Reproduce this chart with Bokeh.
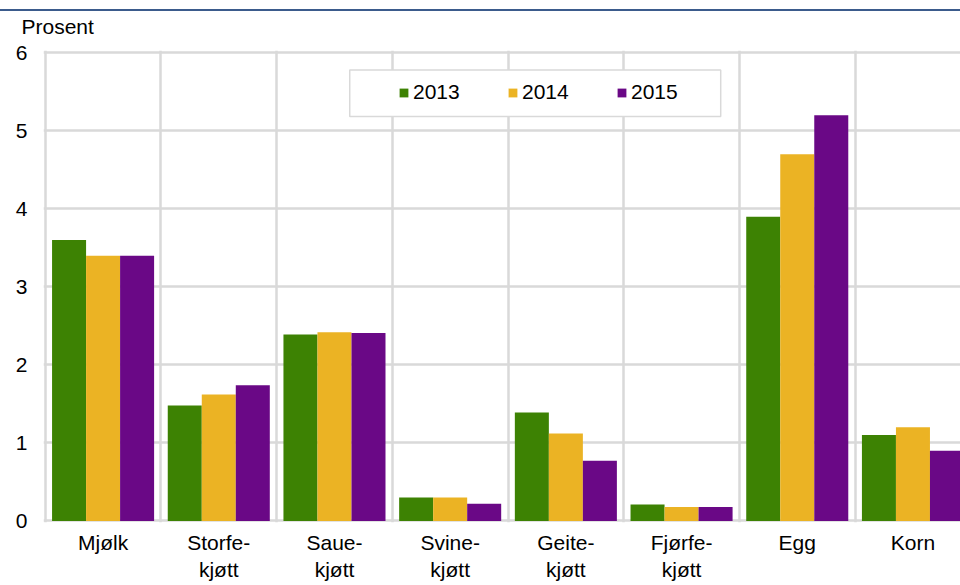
from bokeh.plotting import figure
from bokeh.models import (Range1d, FixedTicker, Legend, LegendItem, BoxAnnotation,
                          Div, ColumnDataSource)
from bokeh.layouts import column
from bokeh.embed import file_html
from bokeh.resources import INLINE

categories = ["Mjølk", "Storfe-\nkjøtt", "Saue-\nkjøtt", "Svine-\nkjøtt",
              "Geite-\nkjøtt", "Fjørfe-\nkjøtt", "Egg", "Korn"]
years = ["2013", "2014", "2015"]
v2013 = [3.6, 1.48, 2.39, 0.30, 1.39, 0.21, 3.9, 1.1]
v2014 = [3.4, 1.62, 2.42, 0.30, 1.12, 0.18, 4.7, 1.2]
v2015 = [3.4, 1.74, 2.41, 0.22, 0.77, 0.18, 5.2, 0.9]
y_ticks = [0, 1, 2, 3, 4, 5, 6]
colors = ["#3d8203", "#ebb324", "#6a0886"]

FONT = "Liberation Sans"
GRID = "#d9d9d9"
FS = "21px"

X0, X1 = -0.015, 7.911
Y0, Y1 = -0.02, 6.03
PXU_X, PXU_Y = 115.7, 78.0

p = figure(width=960, height=585, output_backend="svg", toolbar_location=None,
           x_range=Range1d(X0, X1), y_range=Range1d(Y0, Y1),
           min_border_left=43, min_border_right=0, min_border_top=50,
           min_border_bottom=63)
p.outline_line_color = None
p.background_fill_color = "white"
p.border_fill_color = "white"

centers = [i + 0.5 for i in range(len(categories))]
bw = 0.294
renderers = []
for k, vals in enumerate([v2013, v2014, v2015]):
    src = ColumnDataSource(dict(x=[c + (k - 1) * bw for c in centers], top=vals))
    r = p.vbar(x="x", top="top", width=bw, source=src, fill_color=colors[k],
               line_color=None)
    renderers.append(r)

# grids
p.xgrid.ticker = FixedTicker(ticks=list(range(len(categories) + 1)))
p.ygrid.ticker = FixedTicker(ticks=y_ticks)
for g in (p.xgrid, p.ygrid):
    g.grid_line_color = GRID
    g.grid_line_width = 2.5

# axes
p.xaxis.ticker = FixedTicker(ticks=centers)
p.xaxis.major_label_overrides = {c: lab for c, lab in zip(centers, categories)}
p.yaxis.ticker = FixedTicker(ticks=y_ticks)
for ax in (p.xaxis, p.yaxis):
    ax.axis_line_color = None
    ax.major_tick_line_color = None
    ax.minor_tick_line_color = None
    ax.major_tick_out = 0
    ax.major_tick_in = 0
    ax.major_label_text_font = FONT
    ax.major_label_text_font_size = FS
    ax.major_label_text_color = "black"
p.xaxis.major_label_standoff = 8
p.yaxis.major_label_standoff = 16

# unit label as title
p.title.text = "Prosent"
p.title.align = "left"
p.title.offset = -22
p.title.text_font = FONT
p.title.text_font_size = FS
p.title.text_font_style = "normal"
p.title.text_color = "black"
p.title.standoff = 25

# legend box + legend
box = BoxAnnotation(left=(349 - 44.5) / PXU_X, right=(720 - 44.5) / PXU_X,
                    top=(520.3 - 69.5) / PXU_Y, bottom=(520.3 - 116) / PXU_Y,
                    fill_color="white", fill_alpha=1.0,
                    line_color=GRID, line_width=1.5, line_alpha=1.0)
p.add_layout(box)
legend = Legend(items=[LegendItem(label=y, renderers=[r]) for y, r in zip(years, renderers)],
                orientation="horizontal", location=(355, 418),
                padding=0, margin=0, spacing=42,
                glyph_width=11, glyph_height=11, label_standoff=4,
                label_width=52, label_height=20,
                label_text_font=FONT, label_text_font_size=FS,
                label_text_color="black",
                border_line_alpha=0, background_fill_alpha=0)
p.add_layout(legend, "center")

top_rule = Div(width=960, height=2, margin=(9, 0, -11, 0),
               styles={"background-color": "#3b5b8c", "z-index": "10",
                       "position": "relative"})

layout = column(top_rule, p, spacing=0)

open("out.html", "w").write(file_html(layout, INLINE))
